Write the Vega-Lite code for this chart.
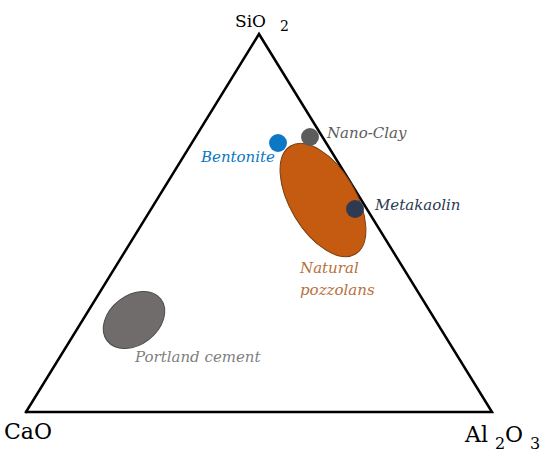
{
  "$schema": "https://vega.github.io/schema/vega-lite/v6.json",
  "width": 550,
  "height": 455,
  "padding": 0,
  "autosize": {"type": "fit", "contains": "padding"},
  "background": "white",
  "config": {"view": {"stroke": null}},
  "datasets": {
    "triangle": [
      {"x": 0, "y": 0, "o": 1},
      {"x": 50, "y": 100, "o": 2},
      {"x": 100, "y": 0, "o": 3},
      {"x": 0, "y": 0, "o": 4}
    ],
    "pozzolan": [{"material": "Natural pozzolans", "x": 63.73, "y": 56.08}],
    "cement": [{"material": "Portland cement", "x": 23.18, "y": 24.34}],
    "points": [
      {"material": "Bentonite", "x": 54.08, "y": 71.16},
      {"material": "Nano-Clay", "x": 60.94, "y": 72.75},
      {"material": "Metakaolin", "x": 70.6, "y": 53.7}
    ],
    "labels": [
      {"material": "Nano-Clay", "text": "Nano-Clay", "x": 64.59, "y": 72.49},
      {"material": "Metakaolin", "text": "Metakaolin", "x": 74.89, "y": 53.44},
      {"material": "Natural pozzolans", "text": "Natural", "x": 58.8, "y": 36.77},
      {"material": "Natural pozzolans", "text": "pozzolans", "x": 58.8, "y": 30.95},
      {"material": "Portland cement", "text": "Portland cement", "x": 23.39, "y": 13.23}
    ],
    "rlabels": [
      {"material": "Bentonite", "text": "Bentonite", "x": 53.43, "y": 66.14}
    ],
    "corners": [
      {"text": "CaO", "x": -4.72, "y": -7.14},
      {"text": "Al", "x": 94.21, "y": -7.94},
      {"text": "O", "x": 102.79, "y": -7.94}
    ],
    "subs": [
      {"text": "2", "x": 100.64, "y": -9.79},
      {"text": "3", "x": 108.15, "y": -9.79}
    ],
    "top": [{"text": "SiO", "x": 44.85, "y": 101.98}],
    "topsub": [{"text": "2", "x": 54.51, "y": 100.79}]
  },
  "layer": [
    {
      "data": {"name": "triangle"},
      "mark": {"type": "line", "color": "black", "strokeWidth": 2.5, "strokeJoin": "miter", "strokeCap": "square"},
      "encoding": {
        "x": {"field": "x", "type": "quantitative", "scale": {"domain": [-5.579, 112.446], "nice": false, "zero": false}, "axis": null},
        "y": {"field": "y", "type": "quantitative", "scale": {"domain": [-11.376, 108.995], "nice": false, "zero": false}, "axis": null},
        "order": {"field": "o", "type": "quantitative"}
      }
    },
    {
      "data": {"name": "pozzolan"},
      "mark": {"type": "point", "filled": true, "shape": "M -1 0 A 1 0.52 0 1 0 1 0 A 1 0.52 0 1 0 -1 0 Z", "size": 15876, "angle": 59, "fill": "#c55a11", "stroke": "#7a3d10", "strokeWidth": 1, "opacity": 1, "fillOpacity": 1},
      "encoding": {
        "x": {"field": "x", "type": "quantitative"},
        "y": {"field": "y", "type": "quantitative"}
      }
    },
    {
      "data": {"name": "cement"},
      "mark": {"type": "point", "filled": true, "shape": "M -1 0 A 1 0.72 0 1 0 1 0 A 1 0.72 0 1 0 -1 0 Z", "size": 4624, "angle": -38, "fill": "#716c6c", "stroke": "#4d4a4a", "strokeWidth": 1, "opacity": 1, "fillOpacity": 1},
      "encoding": {
        "x": {"field": "x", "type": "quantitative"},
        "y": {"field": "y", "type": "quantitative"}
      }
    },
    {
      "data": {"name": "points"},
      "mark": {"type": "point", "filled": true, "shape": "circle", "size": 320, "opacity": 1},
      "encoding": {
        "x": {"field": "x", "type": "quantitative"},
        "y": {"field": "y", "type": "quantitative"},
        "color": {"field": "material", "type": "nominal", "legend": null,
          "scale": {"domain": ["Bentonite", "Nano-Clay", "Metakaolin", "Natural pozzolans", "Portland cement"],
                    "range": ["#0b77c5", "#5d5c5c", "#2d3a52", "#b8703c", "#7f7f7f"]}}
      }
    },
    {
      "data": {"name": "labels"},
      "mark": {"type": "text", "font": "DejaVu Serif", "fontStyle": "italic", "fontSize": 15, "align": "left", "baseline": "alphabetic"},
      "encoding": {
        "x": {"field": "x", "type": "quantitative"},
        "y": {"field": "y", "type": "quantitative"},
        "text": {"field": "text"},
        "color": {"field": "material", "type": "nominal", "legend": null,
          "scale": {"domain": ["Bentonite", "Nano-Clay", "Metakaolin", "Natural pozzolans", "Portland cement"],
                    "range": ["#2a7ab0", "#5a5a5a", "#3e3e3e", "#b8703c", "#808080"]}}
      }
    },
    {
      "data": {"name": "rlabels"},
      "mark": {"type": "text", "font": "DejaVu Serif", "fontStyle": "italic", "fontSize": 15, "align": "right", "baseline": "alphabetic"},
      "encoding": {
        "x": {"field": "x", "type": "quantitative"},
        "y": {"field": "y", "type": "quantitative"},
        "text": {"field": "text"},
        "color": {"field": "material", "type": "nominal", "legend": null,
          "scale": {"domain": ["Bentonite", "Nano-Clay", "Metakaolin", "Natural pozzolans", "Portland cement"],
                    "range": ["#2a7ab0", "#5a5a5a", "#3e3e3e", "#b8703c", "#808080"]}}
      }
    },
    {
      "data": {"name": "corners"},
      "mark": {"type": "text", "font": "DejaVu Serif", "fontSize": 22, "align": "left", "baseline": "alphabetic", "color": "black"},
      "encoding": {
        "x": {"field": "x", "type": "quantitative"},
        "y": {"field": "y", "type": "quantitative"},
        "text": {"field": "text"}
      }
    },
    {
      "data": {"name": "subs"},
      "mark": {"type": "text", "font": "DejaVu Serif", "fontSize": 16, "align": "left", "baseline": "alphabetic", "color": "black"},
      "encoding": {
        "x": {"field": "x", "type": "quantitative"},
        "y": {"field": "y", "type": "quantitative"},
        "text": {"field": "text"}
      }
    },
    {
      "data": {"name": "top"},
      "mark": {"type": "text", "font": "DejaVu Serif", "fontSize": 17, "align": "left", "baseline": "alphabetic", "color": "black"},
      "encoding": {
        "x": {"field": "x", "type": "quantitative"},
        "y": {"field": "y", "type": "quantitative"},
        "text": {"field": "text"}
      }
    },
    {
      "data": {"name": "topsub"},
      "mark": {"type": "text", "font": "DejaVu Serif", "fontSize": 14, "align": "left", "baseline": "alphabetic", "color": "black"},
      "encoding": {
        "x": {"field": "x", "type": "quantitative"},
        "y": {"field": "y", "type": "quantitative"},
        "text": {"field": "text"}
      }
    }
  ]
}
